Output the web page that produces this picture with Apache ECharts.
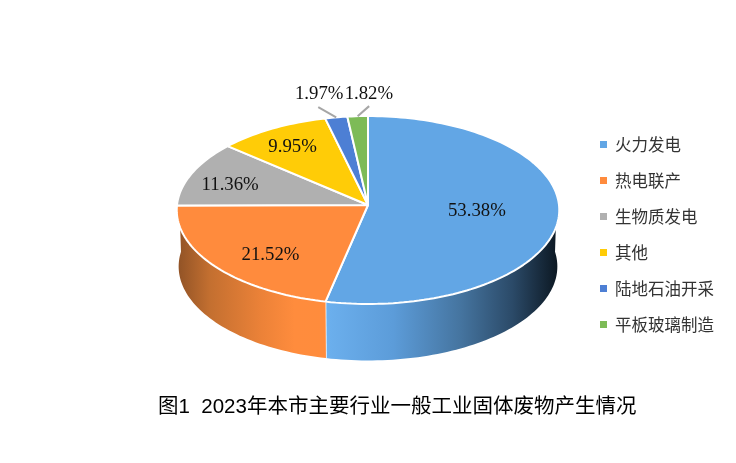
<!DOCTYPE html>
<html><head><meta charset="utf-8">
<style>html,body{margin:0;background:#fff}#c{width:736px;height:463px}</style>
<script src="https://cdn.jsdelivr.net/npm/echarts@6/dist/echarts.min.js"></script>
</head><body><div id="c"></div>
<script>
const categories = ['火力发电','热电联产','生物质发电','其他','陆地石油开采','平板玻璃制造'];
const shares = [53.38,21.52,11.36,9.95,1.97,1.82];
const colors = ['#62A6E5','#FF8B3D','#B0B0B0','#FFCC07','#4D7FD4','#7DBB57'];
const sideStops = [
  [[0,'#6CB0EE'],[0.29,'#5C9CD9'],[0.58,'#45749F'],[0.8,'#2B4A68'],[1,'#0B1620']],
  [[0,'#8F5226'],[0.22,'#C36F30'],[0.57,'#EC8238'],[0.79,'#FF8C3D'],[1,'#FF8C3C']],
  null,null,null,null];
// label placement relative to each slice's mid angle: radial fraction, angle shift (deg)
const labelPlace = [[0.571,-0.8],[0.706,-6.2],[0.765,-2.8],[0.770,-0.5],[1.314,-1.9],[1.285,3.5]];
const leaderEnd = [null,null,null,null,[1.14,-3.9],[1.118,3.6]];

const CX=368, CY=205, R=191, A=93.7, C=-0.0532, DEPTH=56.5, BOTTOM_SCALE=0.99;
const rad=d=>d*Math.PI/180;
function project(deg,f){
  const u=f*Math.sin(rad(deg)), v=-f*Math.cos(rad(deg)), k=1+C*v;
  return [CX+R*u/k, CY+A*v/k];
}
function bottom(deg){const p=project(deg,1);return [CX+(p[0]-CX)*BOTTOM_SCALE,p[1]+DEPTH];}
function arc(a,b,fn){const n=Math.max(2,Math.ceil(Math.abs(b-a)/1.5));const o=[];for(let i=0;i<=n;i++)o.push(fn(a+(b-a)*i/n));return o;}
const total=shares.reduce((s,v)=>s+v,0);
const starts=[];shares.reduce((s,v,i)=>{starts[i]=s;return s+v;},0);

function makeRender(i){
  return function(params,api){
    const a0=starts[i]/total*360, a1=a0+api.value(0)/total*360, mid=(a0+a1)/2;
    const kids=[];
    // a slice ending within a degree of the left silhouette carries the wall up to it
    const s0=Math.max(a0,84), s1=a1>=269?276:a1;
    if(s1>s0 && a0<269){
      const top=arc(s0,s1,d=>project(d,1)), bot=arc(s1,s0,bottom);
      const stops=sideStops[i];
      const fill=stops?new echarts.graphic.LinearGradient(0,0,1,0,stops.map(s=>({offset:s[0],color:s[1]}))):colors[i];
      kids.push({type:'polygon',shape:{points:top.concat(bot)},style:{fill:fill,stroke:null}});
      if(a1<269&&a1>84){const p=project(a1,1),q=bottom(a1);
        kids.push({type:'line',shape:{x1:p[0],y1:p[1],x2:q[0],y2:q[1]},style:{stroke:'#fff',lineWidth:1.5}});}
    }
    const pts=[[CX,CY]].concat(arc(a0,a1,d=>project(d,1)));
    kids.push({type:'polygon',shape:{points:pts},style:{fill:colors[i],stroke:'#fff',lineWidth:2,lineJoin:'bevel'}});
    if(leaderEnd[i]){
      const p=project(mid,1),q=project(mid+leaderEnd[i][1],leaderEnd[i][0]);
      kids.push({type:'line',shape:{x1:p[0],y1:p[1],x2:q[0],y2:q[1]},style:{stroke:'#A6A6A6',lineWidth:2}});
    }
    const l=project(mid+labelPlace[i][1],labelPlace[i][0]);
    kids.push({type:'text',z2:10,x:l[0],y:l[1]+1.5,style:{text:api.value(0).toFixed(2)+'%',fontSize:18.8,fontFamily:'"Liberation Serif"',fill:'#111',align:'center',verticalAlign:'middle'}});
    return {type:'group',children:kids};
  };
}
const chart=echarts.init(document.getElementById('c'),null,{renderer:'canvas'});
chart.setOption({
  animation:false,
  backgroundColor:'#fff',
  title:{text:'图1  2023年本市主要行业一般工业固体废物产生情况',left:153,top:392,
    textStyle:{fontSize:20.5,fontWeight:'normal',color:'#000',fontFamily:'"Liberation Sans","Noto Sans CJK SC"'}},
  legend:{orient:'vertical',left:595,top:130,icon:'rect',itemWidth:7,itemHeight:7,itemGap:17,selectedMode:false,
    data:categories,
    textStyle:{fontSize:16.5,color:'#333',padding:[0,0,0,3],fontFamily:'"Noto Sans CJK SC"',lineHeight:19}},
  series:categories.map((name,i)=>({
    type:'custom',name,coordinateSystem:'none',silent:true,
    itemStyle:{color:colors[i]},
    data:[shares[i]],
    renderItem:makeRender(i)
  }))
});
</script></body></html>
